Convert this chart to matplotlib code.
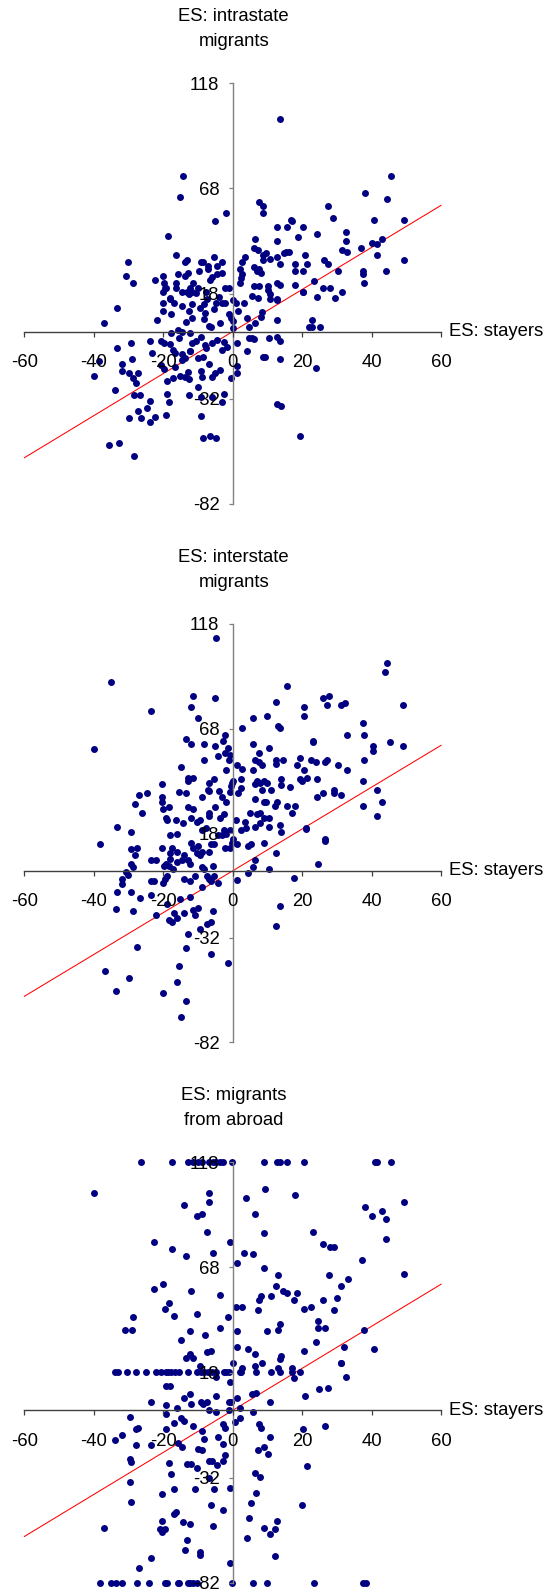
import numpy as np
import matplotlib
matplotlib.use('Agg')
import matplotlib.pyplot as plt

plt.rcParams['font.family'] = ['Liberation Sans', 'DejaVu Sans']

titles = ["ES: intrastate\nmigrants", "ES: interstate\nmigrants", "ES: migrants\nfrom abroad"]
x_label = "ES: stayers"
x_ticks = [-60, -40, -20, 0, 20, 40, 60]
y_ticks = [-82, -32, 18, 68, 118]
ref_line_x = [-60, 60]
ref_line_y = [-60, 60]

# ---------------- Panel 1: intrastate migrants vs stayers ----------------
panel1 = np.array([
    [13.7,100.9],[-14.2,74.1],[45.6,74.1],[-15.2,64.1],[38.0,65.7],[44.5,63.2],[7.6,61.6],[8.7,59.8],
    [8.7,56.5],[27.4,59.8],[-2.0,56.5],[28.9,54.0],[-5.0,52.3],[40.6,53.2],[49.2,53.2],[16.7,53.2],
    [17.2,52.3],[12.7,49.9],[15.7,49.9],[20.2,49.9],[-18.7,45.6],[18.7,44.8],[24.4,46.5],[32.5,47.3],
    [6.5,44.0],[32.5,43.0],[12.7,43.0],[43.1,44.0],[40.0,42.2],[41.6,41.4],[37.0,39.7],[6.1,39.7],
    [7.2,38.9],[31.5,38.9],[33.0,38.0],[9.7,37.2],[15.2,38.0],[16.2,38.0],[14.7,37.2],[8.6,36.4],
    [-16.2,36.4],[-5.4,35.6],[3.6,35.6],[12.7,35.6],[10.7,34.7],[20.7,36.4],[41.6,36.4],[49.2,33.9],
    [-30.3,33.1],[-13.2,33.9],[-13.7,33.1],[-9.2,33.1],[-8.7,33.1],[-3.0,33.1],[2.6,33.1],[8.7,33.9],
    [26.4,33.9],[27.4,32.1],[17.8,32.1],[21.3,32.1],[13.7,32.1],[-7.0,31.3],[-4.5,31.3],[2.0,29.7],
    [6.1,30.5],[7.7,29.7],[7.0,28.8],[8.2,28.0],[17.8,28.8],[20.2,28.8],[30.4,28.8],[37.5,28.8],
    [37.5,27.2],[44.1,28.8],[-9.7,28.8],[-7.0,29.7],[-13.0,28.0],[-3.0,28.0],[-4.5,27.2],[-15.7,27.2],
    [-13.7,26.3],[-20.2,26.3],[-30.8,26.3],[-22.3,24.7],[-6.5,24.7],[2.5,25.4],[-28.8,23.1],[-19.7,23.1],
    [-16.2,23.1],[2.2,23.1],[12.7,23.1],[13.7,22.2],[17.8,22.2],[23.4,23.9],[37.9,23.1],[6.1,21.4],
    [7.7,21.4],[-16.2,20.5],[-19.2,20.5],[-12.2,20.5],[-10.1,20.5],[-1.0,20.5],[10.2,21.4],[10.2,19.8],
    [25.9,20.5],[27.9,20.5],[31.5,18.8],[20.2,18.8],[-20.2,18.8],[-13.2,18.8],[-12.7,18.0],[-11.7,18.8],
    [-7.7,18.8],[10.7,18.0],[24.4,16.3],[29.4,15.8],[-18.2,15.8],[5.5,17.1],[7.2,15.8],[12.7,15.3],
    [0.2,15.0],[-14.7,19.0],[-11.4,23.0],[-10.7,18.2],[-6.1,26.1],[-2.1,20.6],[2.7,27.4],[-19.5,20.6],
    [-33.4,11.4],[-37.1,3.9],[-21.7,5.5],[-20.2,9.8],[-17.7,8.2],[-20.2,13.4],[-18.1,15.3],[-17.0,13.4],
    [-12.7,9.8],[-11.7,13.0],[-11.7,6.3],[-8.2,13.0],[-7.9,9.0],[-8.4,5.8],[-6.8,2.7],[-6.3,2.3],
    [-4.9,13.4],[-3.6,4.2],[-3.1,13.4],[-2.1,13.4],[-1.0,8.2],[-0.6,6.3],[1.0,13.4],[1.4,9.8],
    [0.0,5.0],[0.2,1.6],[3.1,13.7],[4.1,6.3],[4.7,2.3],[6.5,3.9],[8.0,7.1],[8.5,9.5],
    [10.7,15.3],[12.7,5.5],[12.8,15.0],[20.3,19.0],[21.9,2.3],[22.9,5.5],[22.9,2.0],[25.0,2.3],
    [-14.5,12.0],[-9.5,11.0],[-5.5,10.5],[-13.5,4.5],[-7.5,15.5],[-4.0,16.5],
    [-29.3,-5.3],[-33.4,-8.0],[-23.8,-4.5],[-20.7,-4.5],[-19.7,-5.6],[-18.2,-6.1],[-17.7,-0.5],[-15.7,0.8],
    [-14.7,0.0],[-12.2,-0.8],[-17.2,-8.7],[-16.7,-10.3],[-14.7,-10.8],[-12.2,-9.5],[-11.7,-5.6],[-10.7,-4.5],
    [-9.2,-2.4],[-7.7,-8.0],[-6.1,-5.6],[-4.6,-4.0],[-2.6,-4.8],[-3.0,-8.7],[-1.6,-7.6],[1.2,-5.3],
    [4.0,-9.5],[4.6,-2.9],[6.1,-3.7],[10.5,-2.9],[12.7,-2.4],[13.7,-4.5],[-23.3,-10.3],[-40.1,-21.1],
    [-38.6,-13.8],[-31.9,-15.4],[-31.9,-18.8],[-28.9,-13.1],[-29.8,-19.6],[-28.8,-22.2],[-27.8,-24.6],[-27.3,-19.6],
    [-33.8,-27.8],[-28.3,-30.4],[-26.8,-30.4],[-23.8,-32.9],[-24.8,-36.5],[-27.3,-38.0],[-29.8,-41.3],[-26.3,-41.3],
    [-23.8,-43.2],[-22.3,-40.5],[-19.3,-39.7],[-18.8,-29.7],[-18.3,-33.7],[-20.7,-15.9],[-19.7,-17.8],[-16.7,-17.0],
    [-18.8,-23.3],[-17.2,-22.2],[-15.2,-21.1],[-13.7,-21.8],[-12.7,-22.7],[-13.0,-19.4],[-14.7,-13.5],[-13.7,-12.7],
    [-12.2,-9.2],[-10.1,-12.7],[-9.2,-19.0],[-8.9,-21.8],[-8.7,-11.9],[-6.8,-15.4],[-6.1,-21.8],[-5.1,-19.8],
    [-3.6,-18.3],[-0.6,-22.2],[1.1,-19.6],[1.1,-16.4],[-10.1,-26.2],[-12.5,-30.4],[-9.2,-30.9],[-6.1,-30.9],
    [-3.0,-33.6],[-2.5,-29.8],[-9.2,-40.4],[-8.7,-50.4],[-6.6,-49.6],[-4.9,-50.4],[-35.5,-53.9],[-32.9,-53.1],
    [-28.3,-59.0],[8.7,-11.9],[9.2,-11.9],[13.7,-13.1],[12.7,-34.6],[13.8,-35.4],[19.3,-49.6],[23.9,-17.2],
    [5.4,-3.2],[-15.5,-3.0],[-8.0,-6.5],
])

# ---------------- Panel 2: interstate migrants vs stayers ----------------
panel2 = np.array([
    [-4.8,111.1],[-35.2,90.1],[44.4,99.3],[43.9,95.1],[15.5,88.3],[-11.4,83.4],[-5.2,82.5],[-11.9,78.3],
    [-23.6,76.6],[-9.9,73.2],[12.4,80.9],[26.1,82.5],[27.6,83.4],[27.2,79.1],[20.5,78.3],[20.5,74.1],
    [31.3,79.1],[32.3,80.0],[49.0,79.1],[5.8,73.2],[10.0,74.1],[2.8,68.1],[13.0,69.0],[13.5,68.1],
    [37.4,70.6],[37.9,64.7],[32.8,64.7],[-2.3,64.7],[-2.8,62.2],[-13.4,63.1],[-11.9,60.6],[-8.4,60.6],
    [-5.2,59.7],[-1.3,58.8],[-40.0,58.0],[5.8,60.6],[10.5,58.8],[23.1,62.2],[23.1,61.4],[7.5,56.3],
    [-2.1,56.3],[-0.8,55.4],[-4.3,54.7],[-8.4,52.9],[-1.1,52.9],[40.4,59.7],[40.4,57.1],[45.4,61.4],
    [49.0,59.7],[37.9,52.9],[6.5,52.9],[7.5,52.0],[8.5,50.6],[12.5,52.9],[14.5,52.9],[12.5,51.3],
    [19.5,53.8],[22.5,52.9],[24.1,52.1],[26.6,52.1],[27.2,52.9],[30.2,50.6],[32.8,48.0],[18.5,50.6],
    [20.5,48.0],[20.0,42.9],[19.5,43.7],[21.5,44.6],[24.2,43.7],[1.3,50.6],[2.8,48.8],[-1.8,48.0],
    [5.8,48.0],[-15.0,49.6],[-12.9,44.6],[-11.4,44.6],[-12.9,42.9],[-20.5,41.3],[-15.4,37.8],[-13.4,37.0],
    [-24.6,37.0],[-27.1,36.2],[-28.2,32.1],[-26.1,27.8],[-20.5,35.4],[-20.5,32.8],[-20.0,29.5],[-18.3,30.3],
    [-19.3,25.4],[-18.8,24.5],[-16.2,24.5],[-14.3,22.7],[-11.9,25.3],[-11.4,29.5],[-12.9,30.3],[-8.9,35.4],
    [-6.9,42.1],[-5.4,43.7],[-7.2,38.8],[-6.9,38.0],[-4.1,38.0],[-3.2,35.4],[-1.8,32.8],[-5.2,30.3],
    [-6.7,27.8],[-6.9,26.2],[-3.8,25.4],[-2.6,27.0],[-0.3,42.1],[0.2,42.9],[-0.4,40.5],[-0.8,37.8],
    [1.4,37.0],[2.3,43.7],[2.3,39.6],[6.4,41.3],[7.0,42.9],[7.9,42.1],[8.5,38.8],[9.0,42.9],
    [10.0,42.1],[11.0,38.8],[14.0,43.7],[14.0,41.1],[16.5,40.3],[6.4,34.5],[9.0,32.8],[9.5,32.8],
    [12.1,31.1],[12.6,32.8],[15.5,31.1],[18.0,31.1],[17.0,27.8],[4.9,27.8],[7.0,27.0],[7.9,27.8],
    [9.0,25.3],[10.5,25.3],[7.9,22.7],[6.4,21.0],[3.4,23.5],[0.9,24.5],[2.3,19.4],[3.8,20.3],
    [10.4,21.0],[13.5,21.9],[14.0,18.6],[21.2,20.3],[26.1,37.0],[24.2,35.4],[29.2,38.8],[29.2,37.0],
    [31.2,36.2],[37.4,42.9],[41.4,38.8],[42.9,32.8],[37.4,31.1],[41.4,26.2],[26.7,15.0],[-33.2,21.0],
    [-29.2,18.6],[-18.0,17.0],[-16.0,17.8],[-8.9,19.4],[-9.4,24.5],[-10.4,23.5],[-7.8,20.3],[-2.6,19.4],
    [-0.7,19.4],[-3.2,17.0],[-4.2,17.0],[-1.8,17.8],
    [-38.3,12.7],[-29.2,10.3],[-27.7,11.1],[-28.2,7.6],[-29.2,3.4],[-28.7,1.8],[-30.6,-0.7],[-30.3,-2.0],
    [-31.8,-4.1],[-31.8,-6.1],[-33.2,-10.1],[-33.7,-18.4],[-29.2,-10.1],[-28.7,-19.4],[-26.7,-12.9],[-23.6,5.0],
    [-22.1,5.0],[-20.5,11.1],[-17.5,11.1],[-18.0,8.4],[-16.0,9.2],[-19.3,3.4],[-19.8,2.5],[-18.3,2.5],
    [-17.3,0.9],[-18.0,5.8],[-16.0,4.1],[-14.0,7.6],[-14.5,5.0],[-13.0,5.0],[-12.4,3.4],[-11.9,13.5],
    [-11.4,11.1],[-9.9,11.9],[-9.4,7.6],[-10.4,8.4],[-8.9,9.2],[-8.9,1.8],[-8.4,0.9],[-6.8,9.2],
    [-6.3,12.7],[-5.8,2.5],[-5.3,12.7],[-2.3,11.1],[-0.8,11.1],[-0.2,13.5],[1.2,12.7],[0.2,15.1],
    [-23.5,-5.0],[-22.6,-5.0],[-20.1,-5.7],[-19.6,-4.1],[-19.0,-2.5],[-14.0,-4.1],[-12.4,-5.0],[-10.9,-2.5],
    [-8.9,-7.6],[-7.4,-2.5],[-6.8,-4.1],[-6.3,-5.0],[-5.3,-2.5],[-4.3,-5.8],[1.3,-4.2],[4.3,-0.9],
    [5.8,1.7],[6.3,5.0],[4.3,11.9],[5.3,12.7],[9.0,13.5],[12.5,8.4],[10.4,0.9],[21.1,19.8],
    [26.7,14.3],[24.6,3.4],[17.5,-3.4],[-23.6,-11.7],[-22.1,-21.1],[-18.8,-16.0],[-15.1,-13.5],[-12.4,-12.7],
    [-17.0,-20.2],[-18.5,-23.6],[-17.5,-24.5],[-16.0,-22.8],[-14.0,-20.2],[-11.4,-18.6],[-10.9,-21.1],[-9.9,-17.7],
    [-7.4,-25.3],[-6.3,-24.5],[-5.8,-19.4],[-9.4,-27.8],[-12.9,-30.4],[-27.7,-36.3],[-13.4,-37.0],[-6.3,-39.6],
    [-1.3,-43.9],[-15.4,-45.5],[-36.9,-48.0],[-29.8,-51.4],[-16.0,-53.1],[-33.7,-57.3],[-20.0,-58.2],[-13.4,-62.4],
    [-14.9,-70.1],[13.5,-16.8],[12.5,-26.2],
])

# ---------------- Panel 3: migrants from abroad vs stayers ----------------
panel3 = np.array([
    [-26.5,118],[-17.4,118],[-12.9,118],[-11.4,118],[-9.9,118],[-8.9,118],[-6.8,118],[-5.8,118],
    [-4.8,118],[-3.8,118],[-2.8,118],[-0.3,118],[9.0,118],[12.7,118],[13.5,118],[15.5,118],
    [20.5,118],[41.0,118],[41.5,118],[45.7,118],
    [-40.1,103.4],[-6.8,103.4],[-6.8,99.3],[9.4,105.1],[18.0,102.6],[3.8,100.9],[49.2,99.3],[-13.9,97.5],
    [38.2,96.7],[43.1,95.0],[-10.4,92.6],[-8.9,93.4],[6.3,93.4],[40.2,92.6],[44.1,90.9],[-7.4,85.0],
    [9.0,84.2],[23.1,85.0],[44.1,81.7],[-22.6,80.1],[-0.8,80.1],[26.1,79.3],[28.1,77.5],[29.1,77.5],
    [-17.4,76.7],[-5.8,75.0],[3.3,75.0],[5.8,74.2],[-13.4,73.4],[37.2,71.7],[1.3,69.9],[9.0,67.6],
    [49.2,65.0],[13.0,64.2],[27.6,64.2],[33.1,62.6],[31.1,59.3],[12.4,59.3],[-22.6,57.6],[-20.1,60.1],
    [-11.9,56.8],[-3.8,55.0],[14.5,56.8],[15.5,56.0],[18.5,56.0],[11.0,54.2],[8.0,54.2],[7.5,52.6],
    [17.5,52.6],[26.1,52.6],[30.1,53.4],[-18.4,50.9],[-19.4,48.4],[0.8,49.3],[2.8,49.3],[7.4,47.6],
    [20.5,48.4],[22.5,49.3],[29.1,47.6],[-28.6,44.2],[-16.9,45.0],[-10.4,45.8],[-1.3,44.2],[24.6,42.7],
    [13.5,40.9],[13.0,38.4],[-31.1,38.4],[-29.1,38.4],[-12.4,37.6],[-3.8,39.2],[1.3,37.6],[10.0,37.6],
    [24.6,39.2],[26.6,39.2],[37.7,38.4],[-14.9,33.3],[-7.9,35.8],[24.1,32.5],[1.3,30.0],[4.3,29.2],
    [32.1,30.0],[40.7,29.2],[20.5,28.4],[-7.4,27.6],[-6.4,28.4],[6.3,26.6],[-12.4,26.6],[-13.4,25.1],
    [-11.4,25.1],[14.0,25.8],[13.5,24.3],[31.1,22.5],[0.2,22.5],[8.4,22.5],[-9.4,20.9],[2.8,20.1],
    [6.3,20.9],[13.0,20.1],[17.1,20.1],
    [-33.8,18.4],[-33.0,18.4],[-30.5,18.4],[-28.0,18.4],[-25.0,18.4],[-22.2,18.4],[-20.7,18.4],[-19.3,18.4],
    [-18.7,18.4],[-17.7,18.4],[-16.7,18.4],[-15.4,18.4],[-12.9,18.4],[-10.2,18.4],[-9.2,18.4],[-8.4,18.4],
    [-7.0,18.4],[-6.0,18.4],[-4.7,18.4],[-2.6,18.4],[-1.8,18.4],[-1.1,18.4],[2.0,18.4],[2.4,18.4],
    [6.8,18.4],[11.0,18.4],[13.5,18.4],[17.0,18.4],[19.3,18.4],
    [-4.7,16.0],[17.5,15.2],[31.1,22.4],[32.6,16.0],[-19.3,11.6],[-18.2,11.6],[-0.8,13.5],[24.9,10.0],
    [27.4,10.8],[20.8,6.7],[-12.2,7.9],[-13.9,6.0],[-11.9,2.9],[-4.8,6.7],[-23.5,4.1],[-19.3,2.5],
    [-16.1,1.0],[-9.2,4.1],[-8.7,3.2],[-7.4,4.1],[-6.8,0.2],[-4.8,-0.8],[-1.1,4.1],[-0.6,4.1],
    [1.2,5.7],[-1.2,0.0],[2.2,1.0],[5.6,7.6],[6.8,8.4],[5.7,-0.8],[10.8,4.1],
    [-29.6,-3.3],[-27.3,-8.2],[-28.0,-9.0],[-31.9,-11.6],[-34.0,-14.0],[-28.0,-16.7],[-23.5,-16.7],[-19.3,-1.7],
    [-19.3,-9.0],[-17.0,-5.9],[-14.9,-3.8],[-13.9,-4.9],[-11.4,-7.5],[-8.9,-9.8],[-2.8,-6.7],[-2.1,-8.2],
    [0.7,-5.7],[-4.2,-12.5],[-2.8,-15.9],[-2.3,-21.2],[-2.9,-24.1],[-4.6,-26.0],[-6.1,-24.1],[-6.8,-24.1],
    [-8.4,-13.8],[-9.9,-18.2],[-8.9,-19.0],[-14.5,-17.4],[-15.9,-15.7],[-18.4,-24.9],[-17.9,-30.1],[-13.3,-25.7],
    [-12.1,-25.7],[-10.3,-27.3],[-6.8,-32.4],[-29.6,-23.3],[-29.2,-24.4],[-29.6,-34.1],[-29.2,-43.5],[-20.4,-40.0],
    [-16.9,-37.6],[-10.9,-37.6],[-5.4,-37.6],[-0.8,-36.8],[-6.4,-45.2],[-2.9,-47.6],[-17.0,-49.2],[-16.4,-48.4],
    [-20.4,-52.6],[-20.9,-56.6],[-19.4,-56.6],[-20.4,-57.9],[-14.4,-53.0],[-12.4,-54.2],[-5.8,-55.0],[-13.3,-61.7],
    [-13.8,-66.6],[-9.4,-67.4],[-9.4,-69.0],[-23.5,-70.1],[-27.1,-75.2],[-37.2,-55.8],[-0.8,-72.5],[2.2,-3.5],
    [7.5,-6.3],[8.0,-8.2],[10.8,-12.5],[7.3,-19.0],[9.1,-17.4],[10.1,-20.9],[6.3,-30.0],[7.8,-31.7],
    [6.8,-39.2],[5.2,-44.2],[4.7,-51.1],[9.0,-55.8],[12.8,-52.6],[12.3,-56.6],[10.8,-59.0],[4.1,-60.9],
    [12.3,-69.3],[20.3,-9.0],[21.5,-26.5],[20.0,-45.0],[26.6,-7.5],
    [-38.1,-82],[-35.0,-82],[-33.5,-82],[-32.0,-82],[-27.5,-82],[-24.0,-82],[-19.4,-82],[-18.9,-82],
    [-15.9,-82],[-15.4,-82],[-12.9,-82],[-12.4,-82],[-11.4,-82],[-10.4,-82],[-0.3,-82],[5.7,-82],
    [9.8,-82],[23.4,-82],[37.5,-82],[38.3,-82],
])

W, H = 548, 1595
fig = plt.figure(figsize=(W / 100, H / 100), dpi=100)
left_px, right_px = 24.4, 441.1
panels_px = [(83.3, 504.0), (624.0, 1042.3), (1162.3, 1582.7)]
FS = 13.3

for data, title, (top, bot) in zip([panel1, panel2, panel3], titles, panels_px):
    ax = fig.add_axes([left_px / W, 1 - bot / H, (right_px - left_px) / W, (bot - top) / H])
    ax.set_xlim(-60, 60)
    ax.set_ylim(-82, 118)
    ax.patch.set_visible(False)
    ax.set_axisbelow(False)
    for s in ['top', 'right']:
        ax.spines[s].set_visible(False)
    ax.spines['left'].set_position(('data', 0))
    ax.spines['bottom'].set_position(('data', 0))
    ax.spines['left'].set_color('#808080')
    ax.spines['bottom'].set_color('#404040')
    ax.spines['left'].set_linewidth(1.0)
    ax.spines['bottom'].set_linewidth(1.0)
    ax.set_xticks(x_ticks)
    ax.set_yticks(y_ticks)
    ax.set_xticklabels([str(v) for v in x_ticks])
    ax.set_yticklabels([str(v) for v in y_ticks])
    ax.tick_params(axis='x', direction='out', length=3.6, width=0.9, color='#404040',
                   pad=12.5, labelsize=FS, labelcolor='black')
    ax.tick_params(axis='y', direction='out', length=2.8, width=0.9, color='#808080',
                   pad=6.8, labelsize=FS, labelcolor='black')
    ax.plot(ref_line_x, ref_line_y, color='#ff0000', lw=0.75, zorder=2, clip_on=False)
    ax.plot(data[:, 0], data[:, 1], 'o', ms=5.0, color='#000080', mec='none',
            clip_on=False, zorder=2.2)
    ax.annotate(x_label, xy=(60, 0), xytext=(5.8, 0), textcoords='offset points',
                ha='left', va='center', fontsize=FS)
    ax.annotate(title, xy=(0, 1), xycoords=('data', 'axes fraction'), xytext=(0.7, 39),
                textcoords='offset points', ha='center', va='center', fontsize=FS,
                linespacing=1.6)

fig.savefig('out.png', dpi=100)
